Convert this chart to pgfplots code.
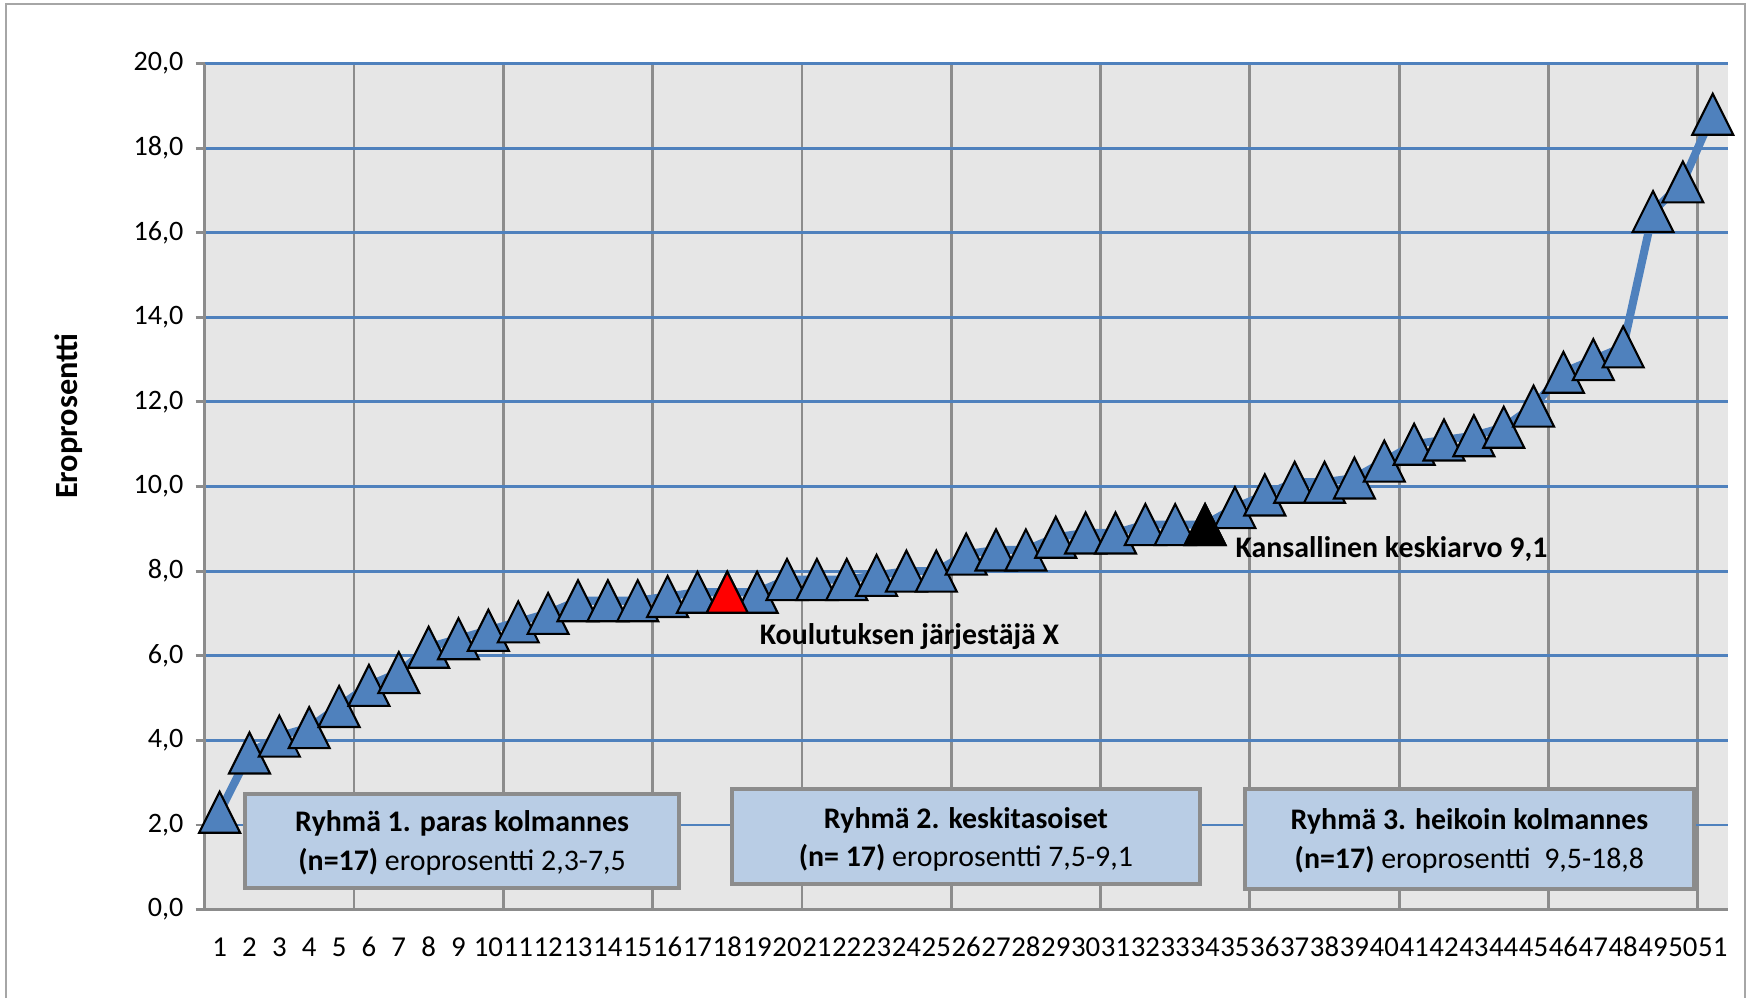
\documentclass[border=0pt]{standalone}
\usepackage{fontspec}
\setmainfont{Carlito}
\usepackage{pgfplots}
\pgfplotsset{compat=1.18}
\definecolor{serBlue}{HTML}{4F81BD}
\definecolor{boxFill}{HTML}{B9CDE5}
\definecolor{plotBg}{HTML}{E6E6E6}
\definecolor{gridGray}{HTML}{8C8C8C}

% Excel-like triangle: fits a square box centred on the data point
\pgfdeclareplotmark{exceltri}{%
  \pgfpathmoveto{\pgfqpoint{0pt}{\pgfplotmarksize}}%
  \pgfpathlineto{\pgfqpoint{\pgfplotmarksize}{-\pgfplotmarksize}}%
  \pgfpathlineto{\pgfqpoint{-\pgfplotmarksize}{-\pgfplotmarksize}}%
  \pgfpathclose
  \pgfusepathqfillstroke
}

\begin{document}
\begin{tikzpicture}
\path (-2.047,-0.885) rectangle (15.493,9.095);
\draw[gray!70, line width=0.6pt] (-1.987,-0.885) -- (-1.987,9.055) -- (15.403,9.055) -- (15.403,-0.885);
\begin{axis}[
    at={(0,0)}, anchor=south west,
    scale only axis,
    width=15.23cm, height=8.46cm,
    xmin=0.5, xmax=51.5,
    ymin=0, ymax=20,
    axis background/.style={fill=plotBg},
    xtick={1,...,51},
    minor xtick={0.5,5.5,...,50.5},
    xminorgrids,
    ytick={0,2,...,20},
    ymajorgrids,
    major grid style={serBlue, line width=0.8pt},
    minor grid style={gridGray, line width=0.8pt},
    axis x line*=bottom, axis y line*=left,
    axis line style={gridGray, line width=0.8pt, -},
    xtick style={draw=none},
    ytick style={gridGray, line width=0.8pt},
    tick align=outside,
    major tick length=0.9mm,
    yticklabel style={font=\fontsize{8}{9.6}\selectfont, black,
        /pgf/number format/.cd, fixed, fixed zerofill, precision=1, use comma},
    xticklabel style={font=\fontsize{8.2}{9.6}\selectfont, black, anchor=north,
        inner xsep=0pt, text height=1.25ex, text depth=0pt},
    xticklabel shift=0.5mm,
    /pgf/number format/assume math mode=true,
    ylabel={\textbf{Eroprosentti}},
    ylabel style={at={(axis description cs:-0.0891,0.583)}, rotate=0, anchor=center,
        font=\fontsize{9.2}{11}\selectfont},
    clip=false,
]

\addplot[serBlue, line width=2.3pt, mark=exceltri, mark size=2.05mm,
    mark options={fill=serBlue, draw=black, line width=0.6pt}] coordinates {
    (1,2.3) (2,3.7) (3,4.1) (4,4.3) (5,4.8) (6,5.3) (7,5.6) (8,6.2) (9,6.4) (10,6.6)
    (11,6.8) (12,7.0) (13,7.3) (14,7.3) (15,7.3) (16,7.4) (17,7.5) (18,7.5) (19,7.5) (20,7.8)
    (21,7.8) (22,7.8) (23,7.9) (24,8.0) (25,8.0) (26,8.4) (27,8.5) (28,8.5) (29,8.8) (30,8.9)
    (31,8.9) (32,9.1) (33,9.1) (34,9.1) (35,9.5) (36,9.8) (37,10.1) (38,10.1) (39,10.2) (40,10.6)
    (41,11.0) (42,11.1) (43,11.2) (44,11.4) (45,11.9) (46,12.7) (47,13.0) (48,13.3) (49,16.5) (50,17.2)
    (51,18.8)
};
% highlighted points
\addplot[only marks, mark=exceltri, mark size=2.05mm,
    mark options={fill=red, draw=black, line width=0.6pt}] coordinates {(18,7.5)};
\addplot[only marks, mark=exceltri, mark size=2.05mm,
    mark options={fill=black, draw=black, line width=0.6pt}] coordinates {(34,9.1)};

\node[font=\fontsize{8.5}{10}\selectfont\bfseries] at (axis cs:24.1,6.46) {Koulutuksen järjestäjä X};
\node[font=\fontsize{8.5}{10}\selectfont\bfseries, anchor=west, inner sep=0pt] at (axis cs:35.0,8.53) {Kansallinen keskiarvo 9,1};

\draw[gridGray, fill=boxFill, line width=1pt] (axis cs:1.85,0.51) rectangle (axis cs:16.39,2.73);
\node[align=center, font=\fontsize{8.5}{11}\selectfont] at (axis cs:9.12,1.58)
    {\textbf{Ryhmä 1. paras kolmannes}\\\textbf{(n=17)} eroprosentti 2,3-7,5};
\draw[gridGray, fill=boxFill, line width=1pt] (axis cs:18.15,0.60) rectangle (axis cs:33.83,2.85);
\node[align=center, font=\fontsize{8.5}{11}\selectfont] at (axis cs:25.99,1.66)
    {\textbf{Ryhmä 2. keskitasoiset}\\\textbf{(n= 17)} eroprosentti 7,5-9,1};
\draw[gridGray, fill=boxFill, line width=1pt] (axis cs:35.34,0.48) rectangle (axis cs:50.37,2.85);
\node[align=center, font=\fontsize{8.5}{11}\selectfont] at (axis cs:42.85,1.62)
    {\textbf{Ryhmä 3. heikoin kolmannes}\\\textbf{(n=17)} eroprosentti\ \ 9,5-18,8};

\end{axis}
\end{tikzpicture}
\end{document}
